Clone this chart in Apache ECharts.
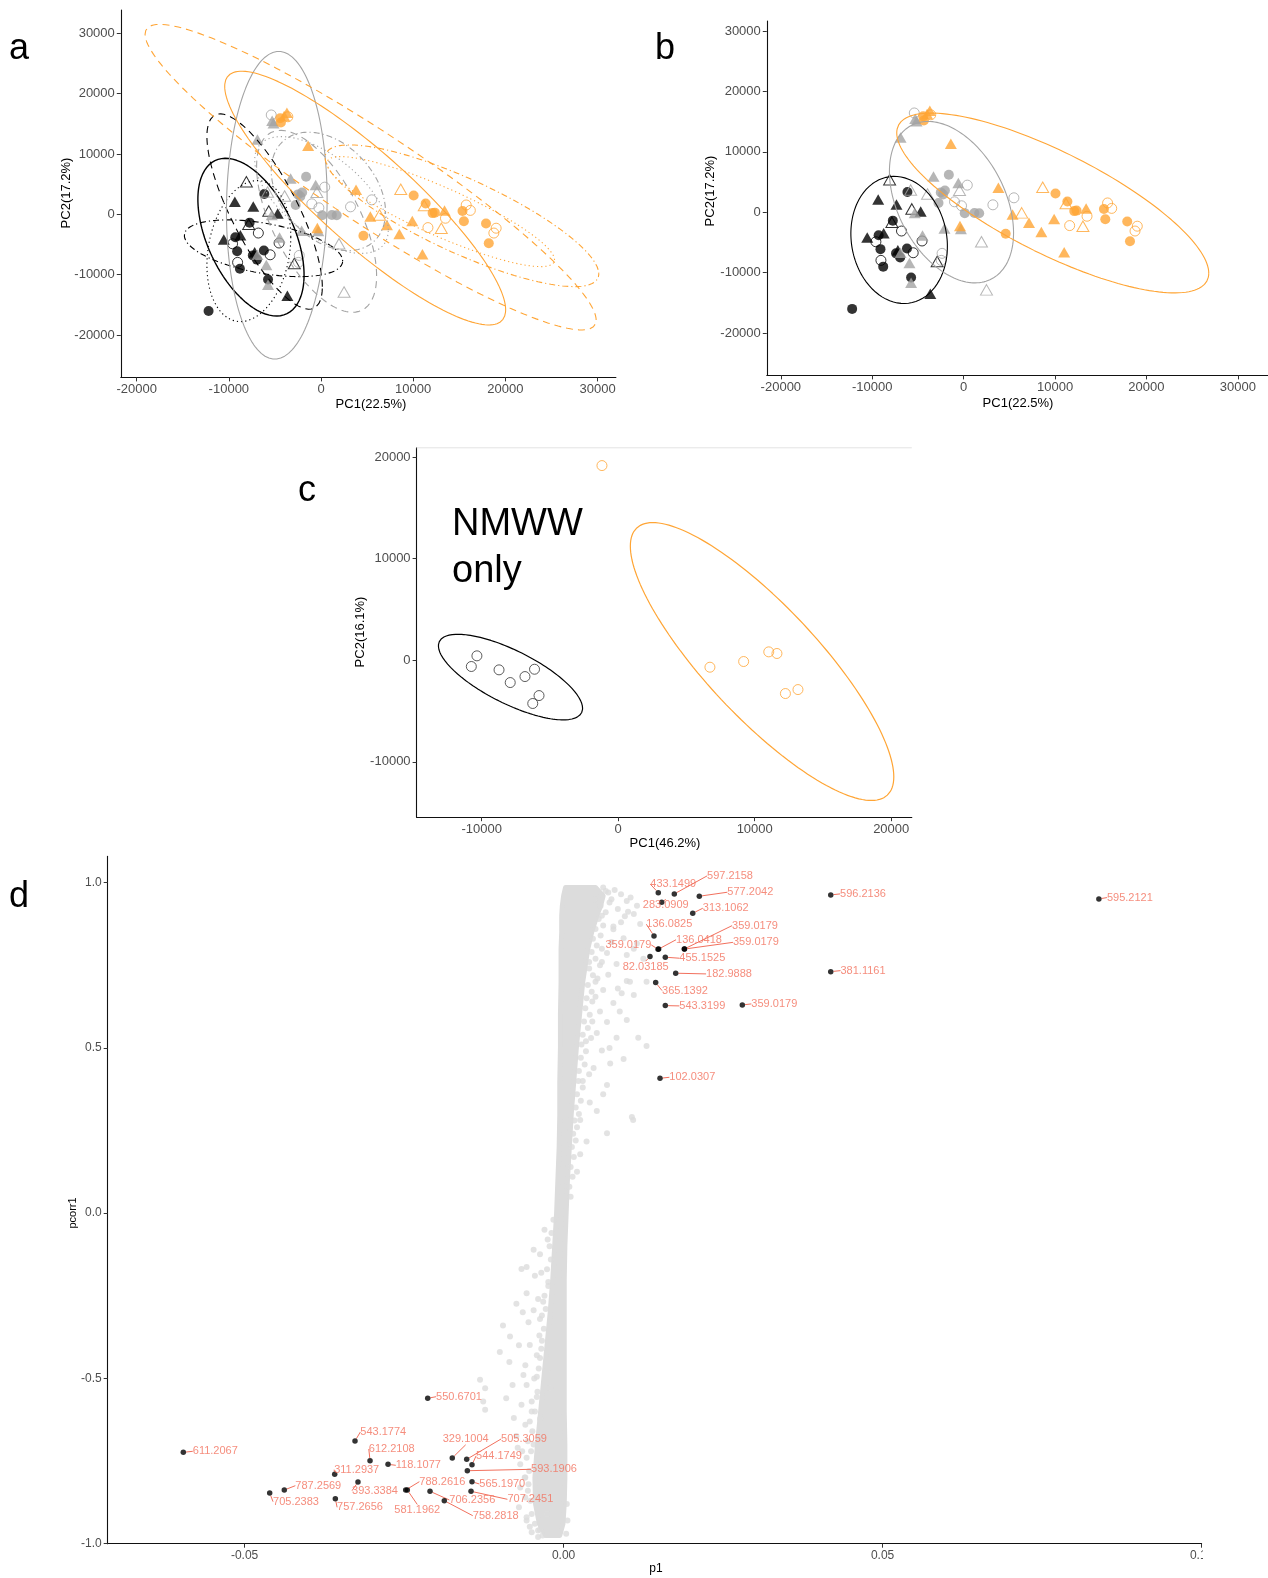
<!DOCTYPE html>
<html><head><meta charset="utf-8">
<script src="https://cdn.jsdelivr.net/npm/echarts@6/dist/echarts.min.js"></script>
<style>html,body{margin:0;padding:0;background:#fff}#chart{width:1268px;height:1578px}</style>
</head><body><div id="chart"></div>
<script>
// ---------- Panels a & b : PCA scores [PC1, PC2] ----------
const blackFilledCircle = [[-12200,-16000],[-6150,3370],[-7750,-1380],[-9300,-3800],[-9100,-6100],[-8800,-9000],[-7400,-6800],[-6950,-7500],[-6200,-6000],[-5750,-10800]];
const blackFilledTriangle = [[-9350,2100],[-7350,1300],[-4700,140],[-10550,-4160],[-8750,-3480],[-7200,-6300],[-3650,-13500]];
const blackOpenCircle = [[-9600,-4880],[-9050,-7960],[-6800,-3100],[-5520,-6700],[-4550,-4750]];
const blackOpenTriangle = [[-8100,5400],[-5670,560],[-7850,-1650],[-2900,-8150]];
const greyFilledCircle = [[-1620,6230],[-2500,3300],[-2050,3600],[-2250,2950],[-2750,1550],[120,-140],[1180,-110],[1700,-150]];
const greyFilledTriangle = [[-6900,12400],[-5300,15500],[-5150,15100],[-3300,5930],[-580,4850],[-5350,-110],[-2100,-2700],[-300,-2750],[-4500,-3850],[-6900,-6700],[-5930,-8400],[-5750,-11650]];
const greyOpenCircle = [[-5400,16450],[400,4500],[-1000,1740],[-230,1080],[3200,1240],[5500,2400],[-2360,-6800],[-2450,-7960]];
const greyOpenTriangle = [[-5800,3700],[-3950,3030],[-450,3650],[1950,-4880],[2500,-12850]];
const orangeFilledCircle = [[-4430,15900],[-4350,15200],[10050,3120],[11350,1800],[12100,200],[12350,280],[15350,550],[15500,-1160],[17900,-1520],[18200,-4800],[4600,-3540]];
const orangeFilledTriangle = [[-3700,16800],[-4000,16300],[-1400,11350],[3800,4050],[-400,-2280],[5350,-350],[7150,-1750],[8500,-3250],[9900,-1100],[11000,-6600],[13400,650]];
const orangeOpenCircle = [[-3600,16150],[11600,-2200],[13500,-650],[15750,1550],[16200,650],[18750,-3100],[19000,-2300]];
const orangeOpenTriangle = [[8650,4150],[6350,-100],[11200,1450],[13050,-2300]];

// Ellipses of panel a: [centerPC1, centerPC2, halfWidthPC1, halfHeightPC2, correlation]
const ellipsesA = [
  [-7600,-3780,5760,13060,-0.48],
  [-6120,460,6260,16170,-0.77],
  [-7830,-6090,4550,11680,0.2],
  [-6240,-5620,8590,4700,-0.45],
  [-4800,1500,5460,25480,0.04],
  [-480,-1160,6510,15060,-0.6],
  [50,3200,7250,9670,-0.6],
  [800,3800,6200,9800,-0.35],
  [4790,2690,15240,21010,-0.88],
  [5380,6150,24470,25300,-0.935],
  [12980,450,12360,9110,-0.878],
  [15290,-240,14850,11730,-0.82]
];
const ellipsesAGroup = ['black','black','black','black','grey','grey','grey','grey','orange','orange','orange','orange'];
const ellipsesALine = ['solid','dashed','dotted','dotdash','solid','dashed','dotted','dotdash','solid','dashed','dotted','dotdash'];
// Ellipses of panel b
const ellipsesB = [[-7060,-4580,5280,10530,-0.1],[-1330,1680,6790,13370,-0.38],[9750,1540,17070,14890,-0.78]];
const ellipsesBGroup = ['black','grey','orange'];

// ---------- Panel c : NMWW only ----------
const nmwwBlack = [[-10350,430],[-10760,-620],[-8730,-950],[-7910,-2200],[-6830,-1610],[-6130,-890],[-5800,-3480],[-6260,-4260]];
const nmwwOrange = [[-1190,19150],[6720,-690],[9190,-130],[11030,820],[11630,660],[12250,-3280],[13170,-2890]];
const ellipsesC = [[-7890,-1660,5280,4210,-0.73],[10540,-130,9650,13670,-0.83]];
const ellipsesCGroup = ['black','orange'];

// ---------- Panel d : S-plot (p1, pcorr1) ----------
// dense core of the variable cloud: pcorr1 level, left and right p1 edge
const coreLevels = [0.985,0.96,0.93,0.90,0.85,0.80,0.70,0.60,0.50,0.40,0.30,0.20,0.10,0.00,-0.10,-0.20,-0.30,-0.40,-0.50,-0.60,-0.70,-0.80,-0.88,-0.94,-0.975];
const coreLeft  = [0.0003,0.0000,-0.0002,-0.0003,-0.0003,-0.0004,-0.0004,-0.0005,-0.0005,-0.0006,-0.0006,-0.0007,-0.0009,-0.0011,-0.0014,-0.0017,-0.0021,-0.0026,-0.0031,-0.0036,-0.0041,-0.0045,-0.0044,-0.0038,-0.0028];
const coreRight = [0.0050,0.0062,0.0058,0.0052,0.0044,0.0038,0.0030,0.0025,0.0020,0.0016,0.0012,0.0009,0.0006,0.0004,0.0002,0.0001,0.0001,0.0001,0.0001,0.0001,0.0002,0.0002,0.0001,-0.0001,-0.0006];
// scattered variables outside the core [p1, pcorr1]
const cloudPoints = [
 [0.0070,0.970],[0.0075,0.950],[0.0099,0.944],[0.0096,0.898],[0.0078,0.859],[0.0094,0.832],[0.0068,0.787],[0.0083,0.754],[0.0070,0.721],[0.0099,0.702],
 [0.0062,0.675],[0.0078,0.636],[0.0057,0.610],[0.0088,0.610],[0.0068,0.578],[0.0099,0.584],[0.0052,0.545],[0.0083,0.531],[0.0117,0.531],[0.0130,0.506],
 [0.0060,0.492],[0.0073,0.453],[0.0094,0.466],[0.0047,0.439],[0.0068,0.388],[0.0062,0.360],[0.0041,0.335],[0.0052,0.309],[0.0026,0.282],[0.0068,0.242],
 [0.0109,0.282],[0.0036,0.217],[0.0026,0.178],[0.0021,0.125],[0.0107,0.291],[0.0062,0.985],[0.0080,0.978],[0.0090,0.965],[0.0105,0.955],[0.0115,0.930],
 [0.0085,0.920],[0.0110,0.905],[0.0120,0.875],[0.0090,0.880],[0.0060,0.900],[0.0075,0.820],[0.0110,0.800],[0.0060,0.760],[0.0125,0.770],[0.0085,0.680],
 [0.0110,0.660],[0.0050,0.700],[0.0072,0.500],[0.0045,0.580],[0.0078,0.867],[0.0101,0.912],[0.0115,0.816],[0.0099,0.781],[0.0104,0.700],[0.0091,0.665],
 [0.0130,0.700],[0.0040,0.760],[0.0045,0.640],[0.0035,0.520],[0.0030,0.400],
 [0.0048,0.95],[0.0058,0.93],[0.0066,0.91],[0.0055,0.89],[0.0062,0.87],[0.0050,0.86],[0.0058,0.84],[0.0046,0.83],[0.0052,0.81],[0.0060,0.80],
 [0.0044,0.79],[0.0050,0.77],[0.0057,0.75],[0.0040,0.74],[0.0046,0.72],[0.0053,0.71],[0.0038,0.69],[0.0044,0.67],[0.0036,0.65],[0.0050,0.655],
 [0.0034,0.62],[0.0041,0.60],[0.0032,0.58],[0.0038,0.56],[0.0030,0.54],[0.0043,0.53],[0.0028,0.51],[0.0035,0.49],[0.0027,0.47],[0.0033,0.45],
 [0.0024,0.43],[0.0040,0.42],[0.0023,0.40],[0.0030,0.38],[0.0021,0.36],[0.0027,0.34],[0.0019,0.32],[0.0024,0.30],[0.0017,0.28],[0.0021,0.26],
 [0.0015,0.24],[0.0019,0.22],[0.0013,0.20],[0.0016,0.17],[0.0011,0.14],[0.0014,0.11],[0.0009,0.08],[0.0011,0.05],[0.0066,0.975],[0.0072,0.94],
 [-0.0047,-0.111],[-0.0037,-0.124],[-0.0066,-0.169],[-0.0058,-0.163],[-0.0045,-0.189],[-0.0024,-0.208],[-0.0058,-0.242],[-0.0032,-0.268],[-0.0074,-0.274],[-0.0047,-0.294],
 [-0.0037,-0.320],[-0.0095,-0.340],[-0.0084,-0.373],[-0.0034,-0.386],[-0.0053,-0.399],[-0.0037,-0.438],[-0.0063,-0.490],[-0.0026,-0.477],[-0.0042,-0.556],[-0.0021,-0.529],
 [-0.0037,-0.622],[-0.0074,-0.674],[-0.0047,-0.700],[-0.0032,-0.766],[-0.0045,-0.870],[-0.0026,-0.910],[-0.0131,-0.504],[-0.0123,-0.530],[-0.0126,-0.570],[-0.0123,-0.595],
 [-0.0090,-0.560],[-0.0060,-0.640],[-0.0068,-0.760],[-0.0055,-0.820],[-0.0058,-0.930],[-0.0050,-0.965],[-0.0070,-0.890],[-0.0085,-0.450],[-0.0100,-0.420],[-0.0030,-0.050],
 [-0.0025,-0.080],[-0.0053,-0.949],[-0.0037,-0.958],[-0.0058,-0.920],[-0.0042,-0.495],[-0.0058,-0.520],[-0.0050,-0.600],[-0.0065,-0.720],[-0.0060,-0.800],[-0.0040,-0.980],
 [-0.0016,-0.02],[-0.0019,-0.06],[-0.0022,-0.10],[-0.0020,-0.14],[-0.0026,-0.17],[-0.0024,-0.22],[-0.0030,-0.25],[-0.0028,-0.29],[-0.0034,-0.31],[-0.0031,-0.35],
 [-0.0038,-0.37],[-0.0035,-0.41],[-0.0042,-0.43],[-0.0039,-0.47],[-0.0046,-0.50],[-0.0041,-0.54],[-0.0050,-0.57],[-0.0045,-0.60],[-0.0053,-0.63],[-0.0049,-0.66],
 [-0.0056,-0.69],[-0.0051,-0.72],[-0.0058,-0.74],[-0.0054,-0.78],[-0.0061,-0.80],[-0.0056,-0.84],[-0.0052,-0.87],[-0.0060,-0.86],[-0.0050,-0.91],[-0.0045,-0.94],
 [-0.0040,-0.96],[-0.0033,-0.975],[-0.0068,-0.83],[-0.0072,-0.71],[-0.0066,-0.58],[-0.0078,-0.62],[-0.0080,-0.52],[-0.0060,-0.46],[-0.0070,-0.40],[-0.0055,-0.33],
 [-0.0064,-0.30],[-0.0040,-0.26],[-0.0035,-0.18],[0.0004,-0.97],[0.0006,-0.93],[0.0005,-0.88]
];
// highlighted variables
const labelledMz = ['433.1499','597.2158','577.2042','283.0909','313.1062','136.0825','359.0179','136.0418','359.0179','359.0179','82.03185','455.1525','182.9888','365.1392','543.3199','359.0179','596.2136','381.1161','595.2121','102.0307',
 '611.2067','550.6701','543.1774','612.2108','118.1077','311.2937','787.2569','705.2383','393.3384','757.2656','788.2616','581.1962','706.2356','758.2818','329.1004','505.3059','544.1749','593.1906','565.1970','707.2451'];
const labelledP1 = [0.01484,0.01735,0.02127,0.01538,0.02024,0.01417,0.0148,0.0149,0.01892,0.01895,0.01354,0.01594,0.01757,0.01443,0.01594,0.02801,0.04187,0.04187,0.0839,0.01511,
 -0.05961,-0.02130,-0.03270,-0.03034,-0.02752,-0.03588,-0.04378,-0.04607,-0.03223,-0.03578,-0.02475,-0.02450,-0.02094,-0.01870,-0.01745,-0.01519,-0.01436,-0.01509,-0.01436,-0.01451];
const labelledPcorr1 = [0.9697,0.9658,0.9588,0.9407,0.9074,0.8386,0.7985,0.7990,0.7993,0.7990,0.7761,0.7743,0.7259,0.6975,0.6279,0.6300,0.9628,0.7307,0.9507,0.408,
 -0.7235,-0.5601,-0.6893,-0.7489,-0.7598,-0.7900,-0.8375,-0.8466,-0.8133,-0.8638,-0.8375,-0.8375,-0.8415,-0.8699,-0.7407,-0.7447,-0.7610,-0.7792,-0.8124,-0.8415];

// ---------- layout / style (not data) ----------
const labelNudge = [[15,-8.4],[55.7,-18],[51,-4],[4,2.7],[33,-5],[15.3,-11.7],[-29.7,-4.3],[40.3,-9.3],[70.7,-23.3],[71.4,-6.7],[-4.3,10],[37,1],[53.3,0.7],[29.3,8],[37,0.3],[32,-1],[32.3,-1],[32.3,-1],[31,-1.3],[32.3,-1],
 [32,-1],[31.3,-1.6],[28.3,-9],[21.7,-11.7],[30.3,1],[22,-4.6],[34,-4.3],[26.3,8.7],[17,8.7],[24.7,8.6],[36.6,-8.3],[10,20],[42.3,8.7],[51.4,15],[13.4,-18.7],[57.3,-20.3],[27,-8.7],[86.7,-1.4],[30.3,2.3],[59.3,8]];
const COL = {black:'#000000', grey:'#A4A4A4', orange:'#FFA535'};
const DASH = {solid:'solid', dashed:[7,5], dotted:[1.2,3], dotdash:[1.2,3,6,3]};
const FF = '"Liberation Sans", Arial, Helvetica, sans-serif';
const LABEL_RED = '#F2705D';
const CLOUD = '#DCDCDC';

function ellipsePts(p){
  const [cx,cy,rx,ry,r] = p, s = Math.sqrt(1 - r*r), out = [];
  for (let i = 0; i <= 160; i++) { const t = i/160*2*Math.PI; out.push([cx + rx*Math.cos(t), cy + ry*(r*Math.cos(t) + s*Math.sin(t))]); }
  return out;
}
function ellipseSeries(p, color, dash, ai, w){
  return {type:'line', xAxisIndex:ai, yAxisIndex:ai, data:ellipsePts(p), showSymbol:false, symbol:'none', silent:true, z:4,
    lineStyle:{color:color, width:w||1.1, type:dash}};
}
function pointSeries(data, color, shape, ai){
  const tri = shape.indexOf('Triangle') >= 0, filled = shape.indexOf('filled') === 0;
  return {type:'scatter', xAxisIndex:ai, yAxisIndex:ai, data:data, silent:true, z:3,
    symbol: tri ? 'triangle' : 'circle', symbolSize: tri ? [12,10.5] : 10,
    itemStyle: filled ? {color:color, borderWidth:0} : {color:'rgba(0,0,0,0)', borderColor:color, borderWidth:1}};
}
const groups = [
  [blackFilledCircle,'black','filledCircle'],[blackFilledTriangle,'black','filledTriangle'],[blackOpenCircle,'black','openCircle'],[blackOpenTriangle,'black','openTriangle'],
  [greyFilledCircle,'grey','filledCircle'],[greyFilledTriangle,'grey','filledTriangle'],[greyOpenCircle,'grey','openCircle'],[greyOpenTriangle,'grey','openTriangle'],
  [orangeFilledCircle,'orange','filledCircle'],[orangeFilledTriangle,'orange','filledTriangle'],[orangeOpenCircle,'orange','openCircle'],[orangeOpenTriangle,'orange','openTriangle']
];

function mkAxis(gi, min, max, ticks, fmt, fs){
  return {type:'value', gridIndex:gi, min:min, max:max, scale:true,
    axisLine:{show:true, onZero:false, lineStyle:{color:'#111', width:1.1}},
    axisTick:{show:true, length:4, lineStyle:{color:'#333', width:1}, customValues:ticks},
    axisLabel:{show:true, customValues:ticks, formatter:fmt, color:'#4D4D4D', fontSize:fs, fontFamily:FF, margin:6},
    splitLine:{show:false}};
}
const fmtInt = v => String(Math.round(v));
const pcTicks = [-20000,-10000,0,10000,20000,30000];
const cTicks = [-10000,0,10000,20000];

const series = [];
// panel a
groups.forEach(g => series.push(pointSeries(g[0], COL[g[1]], g[2], 0)));
ellipsesA.forEach((p,i) => series.push(ellipseSeries(p, COL[ellipsesAGroup[i]], DASH[ellipsesALine[i]], 0, ellipsesAGroup[i]==='black' && ellipsesALine[i]==='solid' ? 1.4 : 1.1)));
// panel b
groups.forEach(g => series.push(pointSeries(g[0], COL[g[1]], g[2], 1)));
ellipsesB.forEach((p,i) => series.push(ellipseSeries(p, COL[ellipsesBGroup[i]], 'solid', 1, 1.1)));
// panel c
series.push({type:'scatter', xAxisIndex:2, yAxisIndex:2, data:nmwwBlack, symbol:'circle', symbolSize:10, silent:true, z:3,
  itemStyle:{color:'rgba(0,0,0,0)', borderColor:'#333', borderWidth:1}});
series.push({type:'scatter', xAxisIndex:2, yAxisIndex:2, data:nmwwOrange, symbol:'circle', symbolSize:10, silent:true, z:3,
  itemStyle:{color:'rgba(0,0,0,0)', borderColor:COL.orange, borderWidth:1}});
ellipsesC.forEach((p,i) => series.push(ellipseSeries(p, COL[ellipsesCGroup[i]], 'solid', 2, 1.2)));
// panel d
const corePoly = [];
coreLevels.forEach((lv,i) => corePoly.push([coreRight[i], lv]));
for (let i = coreLevels.length-1; i >= 0; i--) corePoly.push([coreLeft[i], coreLevels[i]]);
series.push({type:'custom', xAxisIndex:3, yAxisIndex:3, data:corePoly, silent:true, z:1, clip:true,
  renderItem:function(params, api){
    if (params.dataIndex !== 0) return null;
    const pts = corePoly.map(p => api.coord(p));
    return {type:'polygon', shape:{points:pts}, style:{fill:CLOUD, stroke:CLOUD, lineWidth:5, lineJoin:'round'}};
  }});
series.push({type:'scatter', xAxisIndex:3, yAxisIndex:3, data:cloudPoints, symbol:'circle', symbolSize:6, silent:true, z:2,
  itemStyle:{color:CLOUD}});
series.push({type:'scatter', xAxisIndex:3, yAxisIndex:3, silent:true, z:5,
  data: labelledMz.map((m,i) => ({name:m, value:[labelledP1[i], labelledPcorr1[i]]})),
  symbol:'circle', symbolSize:5.5, itemStyle:{color:'#000'},
  label:{show:true, position:'inside', formatter:'{b}', color:LABEL_RED, fontSize:11, fontFamily:FF},
  labelLine:{show:true, lineStyle:{color:LABEL_RED, width:1}},
  labelLayout:function(p){ const n = labelNudge[p.dataIndex]; return {dx:n[0], dy:n[1]}; }
});

function txt(x, y, s, size, opts, align){
  return Object.assign({type:'text', x:x, y:y, z:50, silent:true,
    style:{text:s, fontSize:size, fontFamily:FF, fill:'#000', align:align||'center', verticalAlign:'middle'}}, opts||{});
}
const graphics = [
  txt(19,49,'a',36), txt(665,49,'b',36), txt(307,491,'c',36), txt(19,897,'d',36),
  txt(452,525,'NMWW',38,null,'left'), txt(452,572,'only',38,null,'left'),
  txt(371,404,'PC1(22.5%)',13), txt(66.5,193,'PC2(17.2%)',13,{rotation:Math.PI/2}),
  txt(1018,403,'PC1(22.5%)',13), txt(710.5,191,'PC2(17.2%)',13,{rotation:Math.PI/2}),
  txt(665,843,'PC1(46.2%)',13), txt(360,632,'PC2(16.1%)',13,{rotation:Math.PI/2}),
  txt(656,1569,'p1',12), txt(73,1213,'pcorr1',11,{rotation:Math.PI/2}),
  {type:'line', z:50, silent:true, shape:{x1:416.6,y1:447.8,x2:911.8,y2:447.8}, style:{stroke:'#E3E3E3', lineWidth:1}},
  {type:'rect', z:60, silent:true, shape:{x:1203,y:1546,width:70,height:40}, style:{fill:'#fff'}}
];

const option = {
  animation:false,
  backgroundColor:'#fff',
  grid:[
    {left:120.8, top:10, width:495.1, height:367.4},
    {left:766.8, top:21, width:510, height:354.4},
    {left:416.6, top:447.8, width:495.2, height:369.4},
    {left:107.7, top:856.4, width:1093.9, height:687.3}
  ],
  xAxis:[
    mkAxis(0,-21723,31992,pcTicks,fmtInt,13),
    mkAxis(1,-21538,33301,pcTicks,fmtInt,13),
    mkAxis(2,-14769,21509,cTicks,fmtInt,13),
    mkAxis(3,-0.07146,0.1,[-0.05,0,0.05,0.1],v => v.toFixed(2),12)
  ],
  yAxis:[
    mkAxis(0,-27004,33834,pcTicks,fmtInt,13),
    mkAxis(1,-27012,31683,pcTicks,fmtInt,13),
    mkAxis(2,-15448,20899,cTicks,fmtInt,13),
    mkAxis(3,-1,1.0793,[-1,-0.5,0,0.5,1],v => v.toFixed(1),12)
  ],
  series:series,
  graphic:graphics
};
const chart = echarts.init(document.getElementById('chart'), null, {renderer:'canvas', width:1268, height:1578});
chart.setOption(option);
</script></body></html>
